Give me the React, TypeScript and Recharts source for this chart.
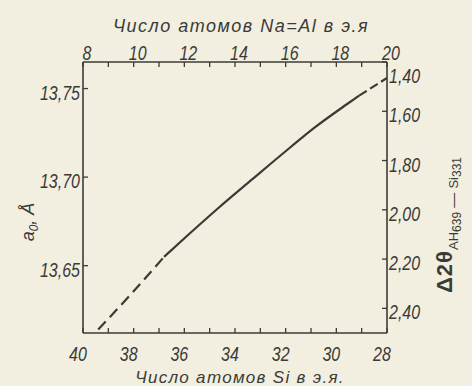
import { LineChart, Line, XAxis, YAxis } from "recharts"

// Na=Al atoms per unit cell vs lattice constant a0 (Å)
const naAtoms = [8.6, 9.9, 11.2, 12.2, 13.3, 14.7, 16.2, 17.1, 18.4, 18.9, 20.0]
const latticeA0 = [13.614, 13.634, 13.655, 13.668, 13.682, 13.699, 13.717, 13.7275, 13.741, 13.746, 13.756]
const solidStart = 11.2
const solidEnd = 18.9

const naTicks = [8, 9, 10, 11, 12, 13, 14, 15, 16, 17, 18, 19, 20]
// Si atoms per unit cell, read at the same tick positions (left to right)
const siLabels = [40, 39, 38, 37, 36, 35, 34, 33, 32, 31, 30, 29, 28]
const a0Ticks = [13.65, 13.7, 13.75]
const thetaTicks = [1.4, 1.6, 1.8, 2.0, 2.2, 2.4]

const data = naAtoms.map((na, i) => ({
  na,
  low: na <= solidStart ? latticeA0[i] : null,
  solid: na >= solidStart && na <= solidEnd ? latticeA0[i] : null,
  high: na >= solidEnd ? latticeA0[i] : null,
}))

const ink = "#3b3b36"
const paper = "#f2efe1"
const font = "'Liberation Sans', 'DejaVu Sans', sans-serif"
const TICK = 5

const comma = (v: number) => v.toFixed(2).replace(".", ",")

// condensed italic label, like the drafting lettering of the original
function Cond({ x, y, anchor, children }: any) {
  return (
    <text
      transform={`translate(${x} ${y}) scale(0.8 1)`}
      textAnchor={anchor}
      fill={ink}
      fontSize={20}
      fontStyle="italic"
      fontFamily={font}
    >
      {children}
    </text>
  )
}

function TopTick({ x, y, payload }: any) {
  const v = payload.value
  return (
    <g>
      <line x1={x} y1={y} x2={x} y2={y + TICK} stroke={ink} strokeWidth={1.3} />
      {v % 2 === 0 && <Cond x={x + 4} y={y - 2} anchor="middle">{v}</Cond>}
    </g>
  )
}

function BottomTick({ x, y, payload, index }: any) {
  const v = payload.value
  return (
    <g>
      <line x1={x} y1={y} x2={x} y2={y - TICK} stroke={ink} strokeWidth={1.3} />
      {v % 2 === 0 && <Cond x={x - 5} y={y + 28} anchor="middle">{siLabels[index]}</Cond>}
    </g>
  )
}

function LeftTick({ x, y, payload }: any) {
  return (
    <g>
      <line x1={x} y1={y} x2={x + TICK} y2={y} stroke={ink} strokeWidth={1.3} />
      <Cond x={x - 3} y={y + 11} anchor="end">{comma(payload.value)}</Cond>
    </g>
  )
}

function RightTick({ x, y, payload }: any) {
  const first = payload.value === 1.4
  return (
    <g>
      <line x1={x} y1={y} x2={x - TICK} y2={y} stroke={ink} strokeWidth={1.3} />
      <Cond x={x + 2} y={y + (first ? 21 : 11)} anchor="start">{comma(payload.value)}</Cond>
    </g>
  )
}

export default function App() {
  return (
    <div style={{ position: "absolute", left: 0, top: 0, width: 472, height: 386, background: paper }}>
      <LineChart width={472} height={386} data={data} margin={{ top: 32, right: 45, bottom: 23, left: 43 }}>
        <XAxis
          xAxisId="na"
          orientation="top"
          type="number"
          dataKey="na"
          domain={[8, 20]}
          ticks={naTicks}
          interval={0}
          allowDataOverflow
          height={30}
          tickSize={0}
          tickMargin={0}
          tick={<TopTick />}
          axisLine={{ stroke: ink, strokeWidth: 1.6 }}
        />
        <XAxis
          xAxisId="si"
          orientation="bottom"
          type="number"
          dataKey="na"
          domain={[8, 20]}
          ticks={naTicks}
          interval={0}
          allowDataOverflow
          height={30}
          tickSize={0}
          tickMargin={0}
          tick={<BottomTick />}
          axisLine={{ stroke: ink, strokeWidth: 1.6 }}
        />
        <YAxis
          yAxisId="a0"
          orientation="left"
          type="number"
          domain={[13.612, 13.765]}
          ticks={a0Ticks}
          interval={0}
          allowDataOverflow
          width={40}
          tickSize={0}
          tickMargin={0}
          tick={<LeftTick />}
          axisLine={{ stroke: ink, strokeWidth: 1.6 }}
        />
        <YAxis
          yAxisId="theta"
          orientation="right"
          type="number"
          domain={[1.4, 2.5]}
          reversed
          ticks={thetaTicks}
          interval={0}
          allowDataOverflow
          width={40}
          tickSize={0}
          tickMargin={0}
          tick={<RightTick />}
          axisLine={{ stroke: ink, strokeWidth: 1.6 }}
        />
        <Line xAxisId="na" yAxisId="a0" type="monotone" dataKey="low" stroke={ink} strokeWidth={2.2} strokeDasharray="11 6" dot={false} isAnimationActive={false} />
        <Line xAxisId="na" yAxisId="a0" type="monotone" dataKey="solid" stroke={ink} strokeWidth={2.2} dot={false} isAnimationActive={false} />
        <Line xAxisId="na" yAxisId="a0" type="monotone" dataKey="high" stroke={ink} strokeWidth={2.2} strokeDasharray="9 4" dot={false} isAnimationActive={false} />

        <text x={241} y={32} textAnchor="middle" fill={ink} fontSize={18} fontStyle="italic" fontFamily={font} letterSpacing={1.5}>
          Число атомов Na=Al в э.я
        </text>
        <text x={240} y={383} textAnchor="middle" fill={ink} fontSize={17} fontStyle="italic" fontFamily={font} letterSpacing={1.3}>
          Число атомов Si в э.я.
        </text>
        <text transform="translate(34 222) rotate(-90)" textAnchor="middle" fill={ink} fontSize={18} fontStyle="italic" fontFamily={font}>
          a<tspan fontSize={12} dy={4}>0</tspan>
          <tspan dy={-4}>, Å</tspan>
        </text>
        <text transform="translate(452 225) rotate(-90)" textAnchor="middle" fill={ink} fontFamily={font}>
          <tspan fontSize={22} fontWeight="bold" letterSpacing={1}>Δ2θ</tspan>
          <tspan fontSize={13} dy={6}>AH</tspan>
          <tspan fontSize={12} dy={3}>639</tspan>
          <tspan fontSize={15} dy={-3}> — </tspan>
          <tspan fontSize={13}>Si</tspan>
          <tspan fontSize={12} dy={3}>331</tspan>
        </text>
      </LineChart>
    </div>
  )
}
